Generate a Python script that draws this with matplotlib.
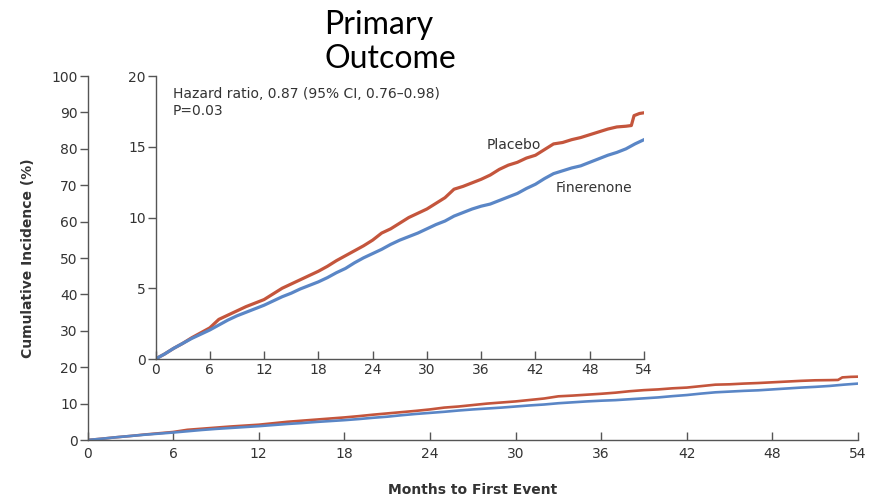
import matplotlib
matplotlib.use("Agg")
import matplotlib.pyplot as plt

months = [0, 1, 2, 3, 4, 5, 6, 7, 8, 9, 10, 11, 12, 13, 14, 15, 16, 17, 18, 19, 20,
          21, 22, 23, 24, 25, 26, 27, 28, 29, 30, 31, 32, 33, 34, 35, 36, 37, 38, 39,
          40, 41, 42, 43, 44, 45, 46, 47, 48, 49, 50, 51, 52, 52.6, 52.9, 53.5, 54]
placebo = [0, 0.35, 0.75, 1.1, 1.5, 1.85, 2.2, 2.8, 3.1, 3.4, 3.7, 3.95, 4.2, 4.6, 5.0,
           5.3, 5.6, 5.9, 6.2, 6.55, 6.95, 7.3, 7.65, 8.0, 8.4, 8.9, 9.2, 9.6, 10.0, 10.3,
           10.6, 11.0, 11.4, 12.0, 12.2, 12.45, 12.7, 13.0, 13.4, 13.7, 13.9, 14.2, 14.4,
           14.8, 15.2, 15.3, 15.5, 15.65, 15.85, 16.05, 16.25, 16.4, 16.45, 16.5, 17.2,
           17.35, 17.4]
fin_months = [0, 1, 2, 3, 4, 5, 6, 7, 8, 9, 10, 11, 12, 13, 14, 15, 16, 17, 18, 19, 20,
              21, 22, 23, 24, 25, 26, 27, 28, 29, 30, 31, 32, 33, 34, 35, 36, 37, 38, 39,
              40, 41, 42, 43, 44, 45, 46, 47, 48, 49, 50, 51, 52, 53, 54]
finerenone = [0, 0.35, 0.75, 1.1, 1.45, 1.75, 2.05, 2.4, 2.75, 3.05, 3.3, 3.55, 3.8, 4.1,
              4.4, 4.65, 4.95, 5.2, 5.45, 5.75, 6.1, 6.4, 6.8, 7.15, 7.45, 7.75, 8.1, 8.4,
              8.65, 8.9, 9.2, 9.5, 9.75, 10.1, 10.35, 10.6, 10.8, 10.95, 11.2, 11.45, 11.7,
              12.05, 12.35, 12.75, 13.1, 13.3, 13.5, 13.65, 13.9, 14.15, 14.4, 14.6, 14.85,
              15.2, 15.5]

x_ticks = [0, 6, 12, 18, 24, 30, 36, 42, 48, 54]
main_y_ticks = [0, 10, 20, 30, 40, 50, 60, 70, 80, 90, 100]
inset_y_ticks = [0, 5, 10, 15, 20]

RED = "#c4553c"
BLUE = "#5a86c6"
SPINE = "#555555"
TXT = "#333333"

plt.rcParams['font.family'] = ['DejaVu Sans']

fig = plt.figure(figsize=(8.69, 4.98), dpi=100)

def style(ax, yticks, xpad):
    for s in ["top", "right"]:
        ax.spines[s].set_visible(False)
    for s in ["left", "bottom"]:
        ax.spines[s].set_color(SPINE)
        ax.spines[s].set_linewidth(1.0)
    ax.set_xticks(x_ticks)
    ax.set_yticks(yticks)
    ax.tick_params(axis="y", direction="out", length=6, width=1, color=SPINE,
                   labelsize=10, labelcolor=TXT, pad=1)
    ax.tick_params(axis="x", direction="in", length=6, width=1, color=SPINE,
                   labelsize=10, labelcolor=TXT, pad=xpad)

# main axes
ax = fig.add_axes([87.5 / 869, 58 / 498, 770.5 / 869, 364 / 498])
ax.plot(months, placebo, color=RED, lw=1.9, solid_joinstyle="round")
ax.plot(fin_months, finerenone, color=BLUE, lw=1.9, solid_joinstyle="round")
ax.set_xlim(0, 54)
ax.set_ylim(0, 100)
style(ax, main_y_ticks, 5)
ax.set_ylabel("Cumulative Incidence (%)", fontsize=10, fontweight="bold", color=TXT, labelpad=12)
ax.set_xlabel("Months to First Event", fontsize=10, fontweight="bold", color=TXT, labelpad=16)

# inset axes
ai = fig.add_axes([155.5 / 869, 139 / 498, 488.5 / 869, 283 / 498])
ai.patch.set_alpha(0)
ai.plot(months, placebo, color=RED, lw=2.3, solid_joinstyle="round")
ai.plot(fin_months, finerenone, color=BLUE, lw=2.3, solid_joinstyle="round")
ai.set_xlim(0, 54)
ai.set_ylim(0, 20)
style(ai, inset_y_ticks, 3)

ai.text(1.9, 18.15, "Hazard ratio, 0.87 (95% CI, 0.76\u20130.98)\nP=0.03", fontsize=10,
        color=TXT, va="center", ha="left", linespacing=1.3)
ai.text(36.6, 15.15, "Placebo", fontsize=10, color=TXT, va="center", ha="left")
ai.text(44.2, 12.05, "Finerenone", fontsize=10, color=TXT, va="center", ha="left")

fig.text(324 / 869, 1 - 42 / 498, "Primary\nOutcome", fontsize=23, family=["Lato", "DejaVu Sans"],
         ha="left", va="center", multialignment="left", linespacing=1.15, color="black")

fig.savefig("out.png", dpi=100)
